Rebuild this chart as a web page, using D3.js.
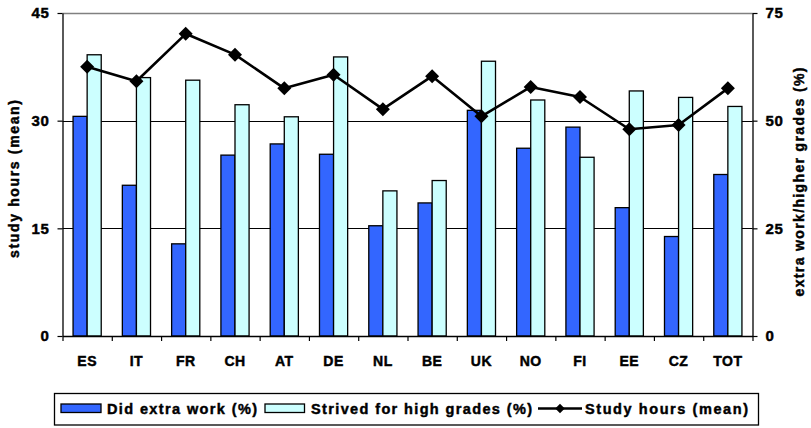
<!DOCTYPE html>
<html>
<head>
<meta charset="utf-8">
<script src="https://cdn.jsdelivr.net/npm/d3@7"></script>
<style>
  html, body { margin: 0; padding: 0; background: #fff; }
  svg { display: block; }
  svg text { font-family: "Liberation Sans", Arial, sans-serif; font-weight: 700; fill: #000; stroke: #000; stroke-width: 0.45px; }
</style>
</head>
<body>
<svg id="chart" width="811" height="428"></svg>
<script>
// Countries along the x axis
const countries = ["ES", "IT", "FR", "CH", "AT", "DE", "NL", "BE", "UK", "NO", "FI", "EE", "CZ", "TOT"];
// Share of students who did extra work (%), right axis
const extraWork = [51, 35, 21.4, 42, 44.6, 42.2, 25.6, 30.9, 52.4, 43.6, 48.5, 29.8, 23.1, 37.5];
// Share who strived for high grades (%), right axis
const highGrades = [65.3, 60, 59.4, 53.7, 50.9, 64.8, 33.7, 36.1, 63.8, 54.8, 41.5, 56.9, 55.4, 53.3];
// Mean weekly study hours, left axis
const studyHours = [37.5, 35.5, 42.1, 39.2, 34.5, 36.4, 31.6, 36.2, 30.6, 34.7, 33.3, 28.8, 29.4, 34.5];

const leftTicks = [0, 15, 30, 45];
const rightTicks = [0, 25, 50, 75];
const seriesNames = ["Did extra work (%)", "Strived for high grades (%)", "Study hours (mean)"];

const svg = d3.select("#chart");
const plot = { left: 62.5, right: 752.5, top: 13, bottom: 336 };

const x = d3.scaleBand().domain(countries).range([plot.left, plot.right]).paddingInner(0).paddingOuter(0);
const bw = x.bandwidth();
// Two bars per group with a gap of 150% of a bar width
const barW = bw / 3.5;
const xs = d3.scaleBand().domain([0, 1]).range([bw / 2 - barW, bw / 2 + barW]);

const yL = d3.scaleLinear().domain([0, 45]).range([plot.bottom, plot.top]);
const yR = d3.scaleLinear().domain([0, 75]).range([plot.bottom, plot.top]);

const colors = ["#3366FF", "#CCFFFF"];

// Plot area top border
svg.append("line")
  .attr("x1", plot.left).attr("x2", plot.right)
  .attr("y1", plot.top + 0.5).attr("y2", plot.top + 0.5)
  .attr("stroke", "#808080").attr("stroke-width", 1.5);

// Horizontal gridlines
svg.append("g").selectAll("line")
  .data(leftTicks.filter(t => t > 0 && t < 45))
  .join("line")
  .attr("x1", plot.left).attr("x2", plot.right)
  .attr("y1", d => Math.round(yL(d)) + 0.5).attr("y2", d => Math.round(yL(d)) + 0.5)
  .attr("stroke", "#000").attr("stroke-width", 1);

// Bars
const groups = svg.append("g").selectAll("g")
  .data(countries.map((c, i) => ({ c, vals: [extraWork[i], highGrades[i]] })))
  .join("g")
  .attr("transform", d => `translate(${x(d.c)},0)`);

groups.selectAll("rect")
  .data(d => d.vals.map((v, k) => ({ v, k })))
  .join("rect")
  .attr("x", d => xs(d.k))
  .attr("width", xs.bandwidth())
  .attr("y", d => yR(d.v))
  .attr("height", d => plot.bottom - yR(d.v))
  .attr("fill", d => colors[d.k])
  .attr("stroke", "#000")
  .attr("stroke-width", 1.3);

// Study hours line
const lineGen = d3.line()
  .x((d, i) => x(countries[i]) + bw / 2)
  .y(d => yL(d));

svg.append("path")
  .datum(studyHours)
  .attr("d", lineGen)
  .attr("fill", "none")
  .attr("stroke", "#000")
  .attr("stroke-width", 2.6)
  .attr("stroke-linejoin", "round");

const diamond = d3.symbol().type(d3.symbolSquare).size(98);
svg.append("g").selectAll("path")
  .data(studyHours)
  .join("path")
  .attr("d", diamond)
  .attr("transform", (d, i) => `translate(${x(countries[i]) + bw / 2},${yL(d)}) rotate(45)`)
  .attr("fill", "#000");

// Left axis
const axL = svg.append("g")
  .attr("transform", `translate(${plot.left},0)`)
  .call(d3.axisLeft(yL).tickValues(leftTicks).tickSize(5).tickPadding(8).tickSizeOuter(0));
// Right axis
const axR = svg.append("g")
  .attr("transform", `translate(${plot.right},0)`)
  .call(d3.axisRight(yR).tickValues(rightTicks).tickSize(5).tickPadding(8).tickSizeOuter(0));
// Bottom axis: ticks between categories
const boundaries = countries.map(c => x(c)).concat([plot.right]);
const xTickScale = d3.scaleLinear().domain([plot.left, plot.right]).range([plot.left, plot.right]);
const axB = svg.append("g")
  .attr("transform", `translate(0,${plot.bottom})`)
  .call(d3.axisBottom(xTickScale).tickValues(boundaries).tickSize(5).tickFormat("").tickSizeOuter(0));
const axC = svg.append("g")
  .attr("transform", `translate(0,${plot.bottom})`)
  .call(d3.axisBottom(x).tickSize(0).tickPadding(20));
axC.select(".domain").remove();
axC.attr("font-size", null).attr("font-family", null);
axC.selectAll("text")
  .style("font-size", "14px")
  .style("letter-spacing", "0.5px");

[axL, axR, axB].forEach(g => {
  g.attr("font-size", null).attr("font-family", null);
  g.select(".domain").attr("stroke", "#000").attr("stroke-width", 1.3);
  g.selectAll(".tick line").attr("stroke", "#000").attr("stroke-width", 1.2);
  g.selectAll(".tick text")
    .style("font-size", "15px")
    .style("letter-spacing", "0.6px");
});

// Axis titles
svg.append("text")
  .attr("transform", `translate(19,179) rotate(-90)`)
  .attr("text-anchor", "middle")
  .style("font-size", "14px")
  .attr("textLength", 158)
  .attr("lengthAdjust", "spacing")
  .text("study hours (mean)");

svg.append("text")
  .attr("transform", `translate(804,182) rotate(-90)`)
  .attr("text-anchor", "middle")
  .style("font-size", "14px")
  .attr("textLength", 229)
  .attr("lengthAdjust", "spacing")
  .text("extra work/higher grades (%)");

// Legend
const lg = svg.append("g");
lg.append("rect")
  .attr("x", 54.5).attr("y", 393.5).attr("width", 704).attr("height", 31.5)
  .attr("fill", "#fff").attr("stroke", "#000").attr("stroke-width", 1.3);

const legendY = 408.5;
lg.append("rect").attr("x", 61).attr("y", 404).attr("width", 40).attr("height", 8.5)
  .attr("fill", colors[0]).attr("stroke", "#000").attr("stroke-width", 1.3);
lg.append("rect").attr("x", 265).attr("y", 404).attr("width", 39.5).attr("height", 8.5)
  .attr("fill", colors[1]).attr("stroke", "#000").attr("stroke-width", 1.3);
lg.append("line").attr("x1", 538).attr("x2", 582).attr("y1", legendY).attr("y2", legendY)
  .attr("stroke", "#000").attr("stroke-width", 2.6);
lg.append("path").attr("d", d3.symbol().type(d3.symbolSquare).size(45))
  .attr("transform", `translate(560,${legendY}) rotate(45)`).attr("fill", "#000");

const legendText = [
  { x: 107, w: 150, t: seriesNames[0] },
  { x: 311, w: 221, t: seriesNames[1] },
  { x: 585, w: 163, t: seriesNames[2] }
];
lg.selectAll("text.lbl")
  .data(legendText)
  .join("text")
  .attr("class", "lbl")
  .attr("x", d => d.x).attr("y", legendY + 5.5)
  .style("font-size", "14.5px")
  .attr("textLength", d => d.w)
  .attr("lengthAdjust", "spacing")
  .text(d => d.t);
</script>
</body>
</html>
